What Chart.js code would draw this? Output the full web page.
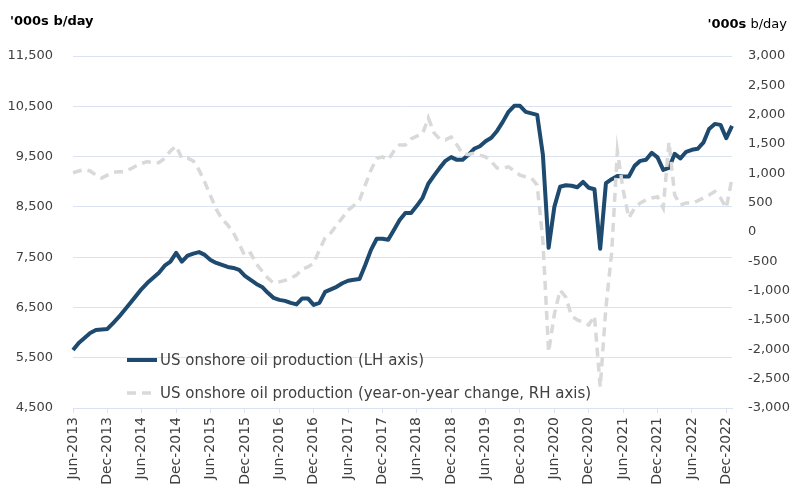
<!DOCTYPE html>
<html>
<head>
<meta charset="utf-8">
<script src="https://cdn.jsdelivr.net/npm/chart.js@4.4.1/dist/chart.umd.min.js"></script>
<style>
  html, body { margin: 0; padding: 0; background: #ffffff; }
  canvas { display: block; }
</style>
</head>
<body>
<canvas id="c" width="798" height="489"></canvas>
<script>
// ---- Data ----
const monthNames = ['Jan','Feb','Mar','Apr','May','Jun','Jul','Aug','Sep','Oct','Nov','Dec'];
const firstYear = 2013;
const firstMonthIndex = 5; // June
const monthCount = 116;    // Jun-2013 .. Jan-2023
const tickMonths = ['Jun', 'Dec'];

const categories = [];
for (let i = 0; i < monthCount; i++) {
  const m = (firstMonthIndex + i) % 12;
  const y = firstYear + Math.floor((firstMonthIndex + i) / 12);
  categories.push(monthNames[m] + '-' + y);
}

// US onshore oil production, '000s b/day (LH axis)
const production = [
  5654, 5794, 5893, 5993, 6052, 6062, 6072, 6190, 6310, 6450,
  6590, 6730, 6870, 6990, 7090, 7190, 7330, 7410, 7585, 7410,
  7530, 7570, 7600, 7545, 7445, 7385, 7345, 7305, 7285, 7245,
  7127, 7047, 6968, 6908, 6790, 6690, 6650, 6630, 6590, 6560,
  6680, 6680, 6550, 6590, 6810, 6860, 6910, 6980, 7030, 7050,
  7065, 7345, 7645, 7865, 7865, 7845, 8040, 8240, 8380, 8380,
  8520, 8680, 8960, 9120, 9275, 9415, 9490, 9435, 9435, 9535,
  9655, 9705, 9805, 9875, 10010, 10190, 10390, 10510, 10510, 10390,
  10360, 10330, 9535, 7685, 8500, 8900, 8930, 8920, 8890, 8995,
  8880, 8850, 7665, 8970, 9050, 9115, 9105, 9105, 9315, 9415,
  9435, 9575, 9485, 9235, 9275, 9555, 9465, 9595, 9635, 9655,
  9775, 10050, 10150, 10130, 9865, 10110
];

// Year-on-year change, '000s b/day (RH axis)
const yoyChange = [
  1010, 1040, 1065, 1040, 970, 920, 970, 1015, 1025, 1030,
  1075, 1125, 1170, 1200, 1175, 1185, 1255, 1380, 1465, 1255,
  1260, 1210, 1055, 850, 615, 390, 220, 120, -15, -205,
  -410, -360, -545, -665, -785, -870, -850, -825, -785, -735,
  -630, -595, -535, -305, -100, -15, 120, 240, 375, 450,
  545, 800, 1055, 1255, 1280, 1230, 1380, 1485, 1485, 1585,
  1635, 1670, 1945, 1690, 1585, 1570, 1620, 1485, 1330, 1320,
  1345, 1310, 1280, 1200, 1090, 1090, 1110, 1040, 970, 940,
  920, 800, -150, -2045, -1400, -990, -1110, -1430, -1500, -1535,
  -1585, -1430, -2640, -1280, -350, 1380, 715, 240, 410, 495,
  545, 580, 600, 410, 1535, 630, 460, 495, 495, 530,
  580, 630, 690, 580, 410, 920
];

const seriesLabels = [
  'US onshore oil production (LH axis)',
  'US onshore oil production (year-on-year change, RH axis)'
];
const axisTitleBold = "'000s";
const axisTitleRest = ' b/day';

// ---- Styles ----
const BLUE = '#1d4a6e';
const GREY = '#d9d9d9';
const TEXT = '#404040';
const GRID = '#dbe3f1';
const FONT = '"DejaVu Sans", sans-serif';

const overlayPlugin = {
  id: 'overlay',
  afterDraw(chart) {
    const ctx = chart.ctx;
    ctx.save();
    // axis titles
    ctx.fillStyle = '#000000';
    ctx.textBaseline = 'alphabetic';
    ctx.textAlign = 'left';
    ctx.font = 'bold 13px ' + FONT;
    ctx.fillText(axisTitleBold + axisTitleRest, 10, 25);
    ctx.font = 'bold 13px ' + FONT;
    const wB = ctx.measureText(axisTitleBold).width;
    ctx.font = '13px ' + FONT;
    const wR = ctx.measureText(axisTitleRest).width;
    const xR = 787 - wB - wR;
    ctx.font = 'bold 13px ' + FONT;
    ctx.fillText(axisTitleBold, xR, 28);
    ctx.font = '13px ' + FONT;
    ctx.fillText(axisTitleRest, xR + wB, 28);

    // legend
    const items = [
      { ds: chart.data.datasets[0], y: 360 },
      { ds: chart.data.datasets[1], y: 393 }
    ];
    items.forEach(it => {
      ctx.beginPath();
      ctx.strokeStyle = it.ds.borderColor;
      ctx.lineWidth = it.ds.borderWidth;
      ctx.setLineDash(it.ds.borderDash || []);
      ctx.moveTo(127, it.y);
      ctx.lineTo(157, it.y);
      ctx.stroke();
      ctx.setLineDash([]);
      ctx.fillStyle = TEXT;
      ctx.font = '15px ' + FONT;
      ctx.textBaseline = 'middle';
      ctx.fillText(it.ds.label, 160, it.y + 1);
    });
    ctx.restore();
  }
};

new Chart(document.getElementById('c'), {
  type: 'line',
  data: {
    labels: categories,
    datasets: [
      {
        label: seriesLabels[0],
        data: production,
        yAxisID: 'yL',
        borderColor: BLUE,
        borderWidth: 4,
        pointRadius: 0,
        tension: 0,
        borderJoinStyle: 'round',
        clip: 4,
        order: 2
      },
      {
        label: seriesLabels[1],
        data: yoyChange,
        yAxisID: 'yR',
        borderColor: GREY,
        borderWidth: 3.5,
        borderDash: [9, 6],
        pointRadius: 0,
        tension: 0,
        clip: 4,
        order: 1
      }
    ]
  },
  options: {
    responsive: false,
    animation: false,
    devicePixelRatio: 1,
    layout: { padding: { top: 56, left: 0, right: 0, bottom: 0 } },
    plugins: {
      legend: { display: false },
      tooltip: { enabled: false }
    },
    scales: {
      x: {
        type: 'category',
        offset: false,
        afterFit(scale) { scale.height = 81; },
        grid: {
          display: true,
          drawOnChartArea: false,
          drawTicks: true,
          tickLength: 5,
          color: GRID,
          lineWidth: 1
        },
        border: { display: true, color: GRID },
        ticks: {
          autoSkip: false,
          maxRotation: 90,
          minRotation: 90,
          padding: 4,
          color: TEXT,
          font: { family: FONT, size: 14 },
          callback(value) {
            const l = this.getLabelForValue(value);
            return tickMonths.includes(l.slice(0, 3)) ? l : null;
          }
        }
      },
      yL: {
        type: 'linear',
        position: 'left',
        min: 4500,
        max: 11500,
        afterFit(scale) { scale.width = 73; },
        grid: { color: GRID, drawTicks: false, lineWidth: 1 },
        border: { display: false },
        ticks: {
          stepSize: 1000,
          padding: 20,
          color: TEXT,
          font: { family: FONT, size: 13 },
          callback: v => v.toLocaleString('en-US')
        }
      },
      yR: {
        type: 'linear',
        position: 'right',
        min: -3000,
        max: 3000,
        afterFit(scale) { scale.width = 66; },
        grid: { drawOnChartArea: false, drawTicks: false },
        border: { display: false },
        ticks: {
          stepSize: 500,
          padding: 16,
          color: TEXT,
          font: { family: FONT, size: 13 },
          callback: v => v.toLocaleString('en-US')
        }
      }
    }
  },
  plugins: [overlayPlugin]
});
</script>
</body>
</html>
